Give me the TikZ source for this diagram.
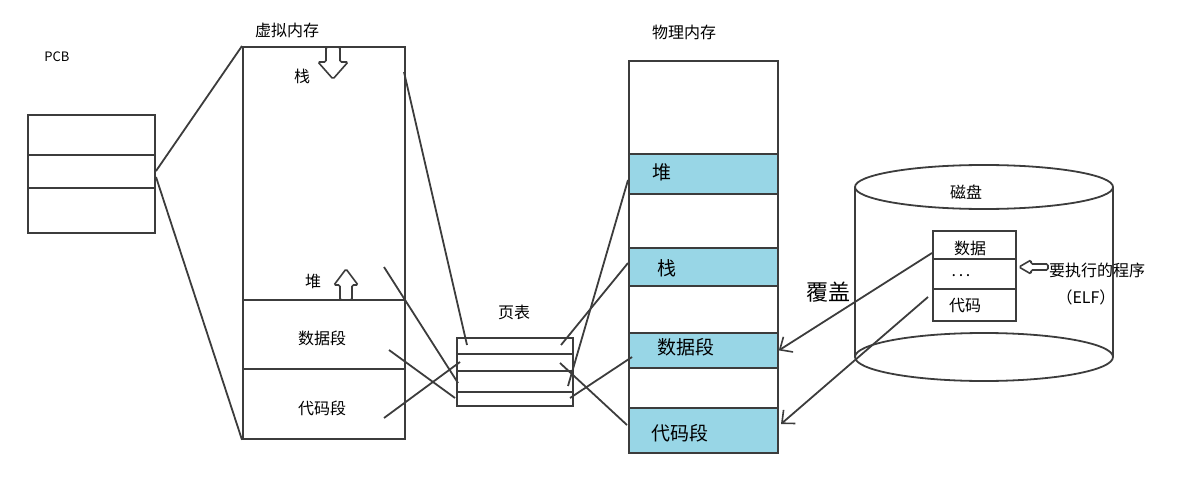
\documentclass[tikz,border=0pt]{standalone}
\usepackage{fontspec}
\setmainfont{Noto Sans CJK SC}
\usetikzlibrary{arrows.meta}
\definecolor{band}{RGB}{152,214,230}
\definecolor{ink}{RGB}{60,60,60}
\begin{document}
\begin{tikzpicture}[x=1pt,y=-1pt,
  line/.style={draw=ink,line width=1.8pt},
  box/.style={draw=ink,line width=1.8pt,inner sep=0,anchor=north west},
  bandbox/.style={box,fill=band},
  lbl/.style={inner sep=0,font=\fontsize{16}{18}\selectfont},
  big/.style={inner sep=0,font=\fontsize{19}{21}\selectfont},
  hollow/.style={draw=ink,line width=1.6pt,fill=white,rounded corners=1.5pt},
  toarrow/.style={line,-{Straight Barb[length=10pt,width=18pt,line width=1.6pt]}}]
\useasboundingbox (0,0) rectangle (1198,476);

% PCB
\node[inner sep=0,font=\fontsize{13}{15}\selectfont] (pcbl) at (57,57) {PCB};
\node[box,minimum width=127pt,minimum height=118pt] (pcb) at (27,114) {};
\draw[line] (27,155) -- (154,155);
\draw[line] (27,188) -- (154,188);

% virtual memory
\node[lbl] (vml) at (287,30) {虚拟内存};
\node[box,minimum width=162pt,minimum height=392pt] (vm) at (242,46) {};
\draw[line] (242,300) -- (404,300);
\draw[line] (242,369) -- (404,369);
\node[lbl] (vstack) at (302,76) {栈};
\node[lbl] (vheap) at (313,281) {堆};
\node[lbl] (vdata) at (322,338) {数据段};
\node[lbl] (vcode) at (322,408) {代码段};
\draw[hollow] (326,47) -- (340,47) -- (340,62) -- (348,62) -- (333,79) -- (318,62) -- (326,62) -- cycle;
\draw[hollow] (340,300) -- (352,300) -- (352,285) -- (358,285) -- (346,269) -- (334,285) -- (340,285) -- cycle;

\coordinate (pcbA) at (156,171);
\coordinate (pcbB) at (156,177);
\draw[line] (pcbA) -- (vm.north west);
\draw[line] (pcbB) -- (vm.south west);

% page table
\node[lbl] (ptl) at (514,312) {页表};
\node[box,minimum width=116pt,minimum height=68pt] (pt) at (456,337) {};
\draw[line] (456,354) -- (572,354);
\draw[line] (456,371) -- (572,371);
\draw[line] (456,392) -- (572,392);

% physical memory
\node[lbl] (pml) at (684,32) {物理内存};
\node[box,minimum width=149pt,minimum height=392pt] (pm) at (628,60) {};
\node[bandbox,minimum width=149pt,minimum height=40pt] (pheap) at (628,153) {};
\node[bandbox,minimum width=149pt,minimum height=38pt] (pstack) at (628,247) {};
\node[bandbox,minimum width=149pt,minimum height=35pt] (pdata) at (628,332) {};
\node[bandbox,minimum width=149pt,minimum height=45pt] (pcode) at (628,407) {};
\node[big] (pheapl) at (662,172) {堆};
\node[big] (pstackl) at (667,268) {栈};
\node[big] (pdatal) at (686,347) {数据段};
\node[big] (pcodel) at (680,433) {代码段};

% VM -> page table
\coordinate (v1) at (404,72);   \coordinate (t1) at (467,345);
\coordinate (v2) at (384,267);  \coordinate (t2) at (458,383);
\coordinate (v3) at (389,350);  \coordinate (t3) at (455,398);
\coordinate (v4) at (384,418);  \coordinate (t4) at (460,362);
\draw[line] (v1) -- (t1);
\draw[line] (v2) -- (t2);
\draw[line] (v3) -- (t3);
\draw[line] (v4) -- (t4);

% page table -> PM
\coordinate (u1) at (568,386);  \coordinate (m1) at (628,180);
\coordinate (u2) at (561,345);  \coordinate (m2) at (628,263);
\coordinate (u3) at (570,398);  \coordinate (m3) at (632,357);
\coordinate (u4) at (560,363);  \coordinate (m4) at (627,425);
\draw[line] (u1) -- (m1);
\draw[line] (u2) -- (m2);
\draw[line] (u3) -- (m3);
\draw[line] (u4) -- (m4);

% disk
\draw[line] (984,187) ellipse [x radius=129pt,y radius=22pt];
\draw[line] (984,357) ellipse [x radius=129pt,y radius=24pt];
\draw[line] (855,187) -- (855,357);
\draw[line] (1113,187) -- (1113,357);
\node[lbl] (diskl) at (966,192) {磁盘};
\node[box,fill=white,minimum width=83pt,minimum height=90pt] (db) at (932,230) {};
\draw[line] (932,259) -- (1015,259);
\draw[line] (932,289) -- (1015,289);
\node[lbl] (ddata) at (970,248) {数据};
\node[lbl] (ddots) at (961,276) {.\,.\,.};
\node[lbl] (dcode) at (965,306) {代码};
\draw[hollow] (1048,264) -- (1031,264) -- (1031,260) -- (1019,267) -- (1031,274) -- (1031,270) -- (1048,270) -- cycle;
\node[lbl] (elf1) at (1097,270) {要执行的程序};
\node[lbl] (elf2) at (1086,297) {（ELF）};

% disk -> PM
\coordinate (d1) at (932,253);
\coordinate (d2) at (928,297);
\draw[toarrow] (d1) -- (pdata.east);
\draw[toarrow] (d2) -- (781,424);
\node[inner sep=0,font=\fontsize{22}{24}\selectfont] (cover) at (828,292) {覆盖};
\end{tikzpicture}
\end{document}
